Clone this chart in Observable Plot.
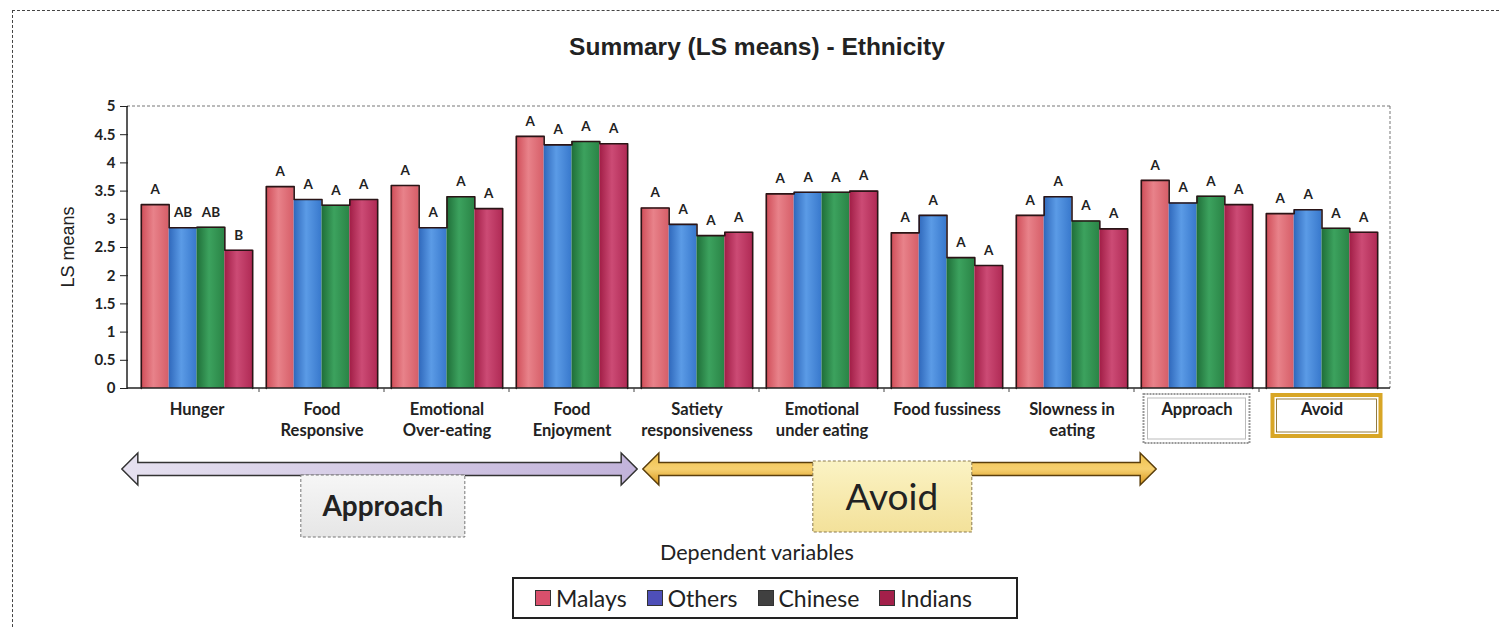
<!DOCTYPE html>
<html><head><meta charset="utf-8">
<script src="https://cdn.jsdelivr.net/npm/d3@7"></script>
<script src="https://cdn.jsdelivr.net/npm/@observablehq/plot@0.6"></script>
<style>
body{margin:0;background:#fff;width:1499px;height:627px;overflow:hidden;position:relative;font-family:"Liberation Sans",Arial,sans-serif;}
#frame{position:absolute;left:12px;top:10px;width:1520px;height:660px;border:1px dashed #444;}
#title{position:absolute;left:0;top:33px;width:1514px;text-align:center;font-weight:bold;font-size:24.5px;color:#222;}
#chart{position:absolute;left:0;top:88px;}
#legend{position:absolute;left:512px;top:577px;width:481px;height:38px;border:2px solid #222;display:flex;align-items:center;gap:20px;padding-left:21px;box-sizing:content-box;font-family:Lato,sans-serif;font-size:23px;color:#222;}
#legend .it{display:flex;align-items:center;}
#legend .sw{width:14px;height:14px;border:1.5px solid #333;margin-right:5px;}
</style>
</head><body>
<svg width="0" height="0" style="position:absolute">
<defs>
<linearGradient id="gMalays" x1="0" x2="1" y1="0" y2="0"><stop offset="0" stop-color="#cf4c57"/><stop offset="0.45" stop-color="#e8828a"/><stop offset="1" stop-color="#d65e68"/></linearGradient>
<linearGradient id="gOthers" x1="0" x2="1" y1="0" y2="0"><stop offset="0" stop-color="#2f68bb"/><stop offset="0.45" stop-color="#5b9be6"/><stop offset="1" stop-color="#3878cc"/></linearGradient>
<linearGradient id="gChinese" x1="0" x2="1" y1="0" y2="0"><stop offset="0" stop-color="#1f6e38"/><stop offset="0.45" stop-color="#3ca25e"/><stop offset="1" stop-color="#2a8446"/></linearGradient>
<linearGradient id="gIndians" x1="0" x2="1" y1="0" y2="0"><stop offset="0" stop-color="#a11d46"/><stop offset="0.45" stop-color="#cc4b75"/><stop offset="1" stop-color="#b02a55"/></linearGradient>
<linearGradient id="gApproach" x1="0" x2="1" y1="0" y2="0"><stop offset="0" stop-color="#e6e1f0"/><stop offset="1" stop-color="#c2b3da"/></linearGradient>
<linearGradient id="gAvoid" x1="0" x2="0" y1="0" y2="1"><stop offset="0" stop-color="#f0c04a"/><stop offset="0.5" stop-color="#f6d070"/><stop offset="1" stop-color="#d8961a"/></linearGradient>
<linearGradient id="gAvoidBox" x1="0" x2="0" y1="0" y2="1"><stop offset="0" stop-color="#fbf3c4"/><stop offset="1" stop-color="#f3e19a"/></linearGradient>
<linearGradient id="gApproachBox" x1="0" x2="0" y1="0" y2="1"><stop offset="0" stop-color="#f6f6f6"/><stop offset="1" stop-color="#e6e6e6"/></linearGradient>
</defs>
</svg>
<div id="frame"></div>
<div id="title">Summary (LS means) - Ethnicity</div>
<div id="chart"></div>
<div id="legend"></div>
<script>
// ---- data ----
const categories = ["Hunger","Food Responsive","Emotional Over-eating","Food Enjoyment","Satiety responsiveness","Emotional under eating","Food fussiness","Slowness in eating","Approach","Avoid"];
const categoryLabels = ["Hunger","Food\nResponsive","Emotional\nOver-eating","Food\nEnjoyment","Satiety\nresponsiveness","Emotional\nunder eating","Food fussiness","Slowness in\neating","Approach","Avoid"];
const ethnicities = ["Malays","Others","Chinese","Indians"];
const malays  = [3.26, 3.58, 3.60, 4.47, 3.20, 3.45, 2.76, 3.07, 3.69, 3.10];
const others  = [2.85, 3.35, 2.85, 4.32, 2.91, 3.48, 3.07, 3.40, 3.29, 3.17];
const chinese = [2.86, 3.25, 3.40, 4.38, 2.71, 3.48, 2.32, 2.97, 3.41, 2.84];
const indians = [2.45, 3.35, 3.19, 4.34, 2.77, 3.50, 2.18, 2.83, 3.26, 2.77];
const malaysLetters  = ["A","A","A","A","A","A","A","A","A","A"];
const othersLetters  = ["AB","A","A","A","A","A","A","A","A","A"];
const chineseLetters = ["AB","A","A","A","A","A","A","A","A","A"];
const indiansLetters = ["B","A","A","A","A","A","A","A","A","A"];
const yTicks = [0,0.5,1,1.5,2,2.5,3,3.5,4,4.5,5];
const groupLabels = ["Approach","Avoid"];
const legendColors = ["#d9506c","#4e4fb8","#404040","#a3204a"];

// ---- derived tables ----
const series = [malays, others, chinese, indians];
const seriesLetters = [malaysLetters, othersLetters, chineseLetters, indiansLetters];
const rows = [];
categories.forEach((c, k) => ethnicities.forEach((e, i) => rows.push({category: c, eth: e, i, value: series[i][k], letter: seriesLetters[i][k]})));
const outline = [];
categories.forEach((c, k) => {
  outline.push({category: c, x: 0, y: 0});
  ethnicities.forEach((e, i) => { outline.push({category: c, x: i, y: series[i][k]}); outline.push({category: c, x: i + 1, y: series[i][k]}); });
  outline.push({category: c, x: ethnicities.length, y: 0});
});
const xDomain = [-0.245, ethnicities.length + 0.245];

const plot = Plot.plot({
  width: 1499, height: 480,
  marginTop: 18, marginBottom: 180, marginLeft: 133, marginRight: 115,
  style: {fontFamily: "Lato, sans-serif", background: "transparent", color: "#222", overflow: "visible"},
  fx: {domain: categories, padding: 0, label: null},
  x: {domain: xDomain, axis: null},
  y: {domain: [0, 5], label: null},
  color: {domain: ethnicities, range: ethnicities.map(e => `url(#g${e})`)},
  marks: [
    Plot.rect(rows, {fx: "category", x1: "i", x2: d => d.i + 1, y1: 0, y2: "value", fill: "eth"}),
    Plot.line(outline, {fx: "category", x: "x", y: "y", z: "category", stroke: "#2a1416", strokeWidth: 1.6}),
    Plot.text(rows, {fx: "category", x: d => d.i + 0.5, y: "value", text: "letter", dy: -15, fontWeight: "bold", fontSize: 13.5, fill: "#222"}),
    Plot.axisY({ticks: yTicks, tickFormat: d => String(d), tickSize: 8, tickPadding: 5, dx: -6, fontSize: 15, fontWeight: "bold", label: null}),
    Plot.axisFx({anchor: "bottom", tickSize: 0, tickPadding: 12, tickFormat: d => categoryLabels[categories.indexOf(d)], fontSize: 16.5, fontWeight: "bold", lineHeight: 1.27, label: null})
  ]
});
document.getElementById("chart").appendChild(plot);

// ---- decorations positioned with the plot's scales ----
const svg = d3.select(plot);
const fx = plot.scale("fx"), xs = plot.scale("x"), ys = plot.scale("y");
const x0 = xs.range[0];
const barStart = c => fx.apply(c) + xs.apply(0) - x0;
const barEnd = c => fx.apply(c) + xs.apply(ethnicities.length) - x0;
const left = 127, right = 1390;
const deco = svg.insert("g", ":first-child");
// plot-area border and axes lines
deco.append("line").attr("x1", left).attr("x2", right).attr("y1", ys.apply(5)).attr("y2", ys.apply(5)).attr("stroke", "#777").attr("stroke-dasharray", "3,2");
deco.append("line").attr("x1", right).attr("x2", right).attr("y1", ys.apply(5)).attr("y2", ys.apply(0)).attr("stroke", "#777").attr("stroke-dasharray", "3,2");
svg.append("line").attr("x1", left).attr("x2", left).attr("y1", ys.apply(5)).attr("y2", ys.apply(0)).attr("stroke", "#222").attr("stroke-width", 1.5);
svg.append("line").attr("x1", left).attr("x2", right).attr("y1", ys.apply(0)).attr("y2", ys.apply(0)).attr("stroke", "#222").attr("stroke-width", 1.5);
categories.slice(1).forEach(c => svg.append("line").attr("x1", fx.apply(c)).attr("x2", fx.apply(c)).attr("y1", ys.apply(0)).attr("y2", ys.apply(0) + 4).attr("stroke", "#444"));
// y axis title
svg.append("text").attr("transform", `translate(68,${ys.apply(2.5)}) rotate(-90)`).attr("text-anchor", "middle").attr("dominant-baseline", "central").attr("font-family", "Liberation Sans, Arial, sans-serif").attr("font-size", 18).attr("fill", "#222").text("LS means");

// boxes around Approach / Avoid tick labels
const yb = ys.apply(0);
{
  const cA = (barStart("Approach") + barEnd("Approach")) / 2;
  deco.append("rect").attr("x", cA - 53).attr("y", yb + 6).attr("width", 106).attr("height", 49).attr("fill", "#fff").attr("stroke", "#999").attr("stroke-width", 2).attr("stroke-dasharray", "2,1");
  deco.append("rect").attr("x", cA - 49).attr("y", yb + 10).attr("width", 98).attr("height", 41).attr("fill", "#fff").attr("stroke", "#bbb").attr("stroke-width", 1);
  const cV = (barStart("Avoid") + barEnd("Avoid")) / 2 + 5;
  deco.append("rect").attr("x", cV - 54).attr("y", yb + 7).attr("width", 108).attr("height", 41).attr("fill", "#fff").attr("stroke", "#d8a626").attr("stroke-width", 4);
  deco.append("rect").attr("x", cV - 50).attr("y", yb + 11).attr("width", 100).attr("height", 33).attr("fill", "#fff").attr("stroke", "#7a5c12").attr("stroke-width", 0.8);
}

// double-headed arrows
function arrowPath(x1, x2, cy, shaft = 13, head = 32, hl = 16) {
  return `M${x1},${cy} L${x1 + hl},${cy - head / 2} L${x1 + hl},${cy - shaft / 2} L${x2 - hl},${cy - shaft / 2} L${x2 - hl},${cy - head / 2} L${x2},${cy} L${x2 - hl},${cy + head / 2} L${x2 - hl},${cy + shaft / 2} L${x1 + hl},${cy + shaft / 2} L${x1 + hl},${cy + head / 2} Z`;
}
const cy = 381;
const a1 = barStart("Hunger") - 19, a2 = barEnd("Food Enjoyment") + 10;
const v1 = barStart("Satiety responsiveness") + 2, v2 = barEnd("Slowness in eating") + 29;
svg.append("path").attr("d", arrowPath(a1, a2, cy)).attr("fill", "url(#gApproach)").attr("stroke", "#333").attr("stroke-width", 1.5);
svg.append("path").attr("d", arrowPath(v1, v2, cy)).attr("fill", "url(#gAvoid)").attr("stroke", "#5a3e0c").attr("stroke-width", 1.5);
// group label boxes
svg.append("rect").attr("x", a1 + 179).attr("y", 387).attr("width", 164).attr("height", 62).attr("fill", "url(#gApproachBox)").attr("stroke", "#777").attr("stroke-dasharray", "3,2");
svg.append("text").attr("x", a1 + 261).attr("y", 417).attr("text-anchor", "middle").attr("dominant-baseline", "central").attr("font-family", "Lato, sans-serif").attr("font-weight", "bold").attr("font-size", 28).attr("fill", "#222").text(groupLabels[0]);
svg.append("rect").attr("x", v1 + 170).attr("y", 373).attr("width", 159).attr("height", 71).attr("fill", "url(#gAvoidBox)").attr("stroke", "#8a7a50").attr("stroke-dasharray", "3,2");
svg.append("text").attr("x", v1 + 249).attr("y", 407).attr("text-anchor", "middle").attr("dominant-baseline", "central").attr("font-family", "Lato, sans-serif").attr("font-size", 37).attr("fill", "#222").text(groupLabels[1]);
// x axis title
svg.append("text").attr("x", 757).attr("y", 464).attr("text-anchor", "middle").attr("dominant-baseline", "central").attr("font-family", "Lato, sans-serif").attr("font-size", 21.5).attr("fill", "#222").text("Dependent variables");

// ---- legend ----
const lg = d3.select("#legend");
ethnicities.forEach((e, i) => {
  const it = lg.append("div").attr("class", "it");
  it.append("div").attr("class", "sw").style("background", legendColors[i]);
  it.append("span").text(e);
});
</script>
</body></html>
